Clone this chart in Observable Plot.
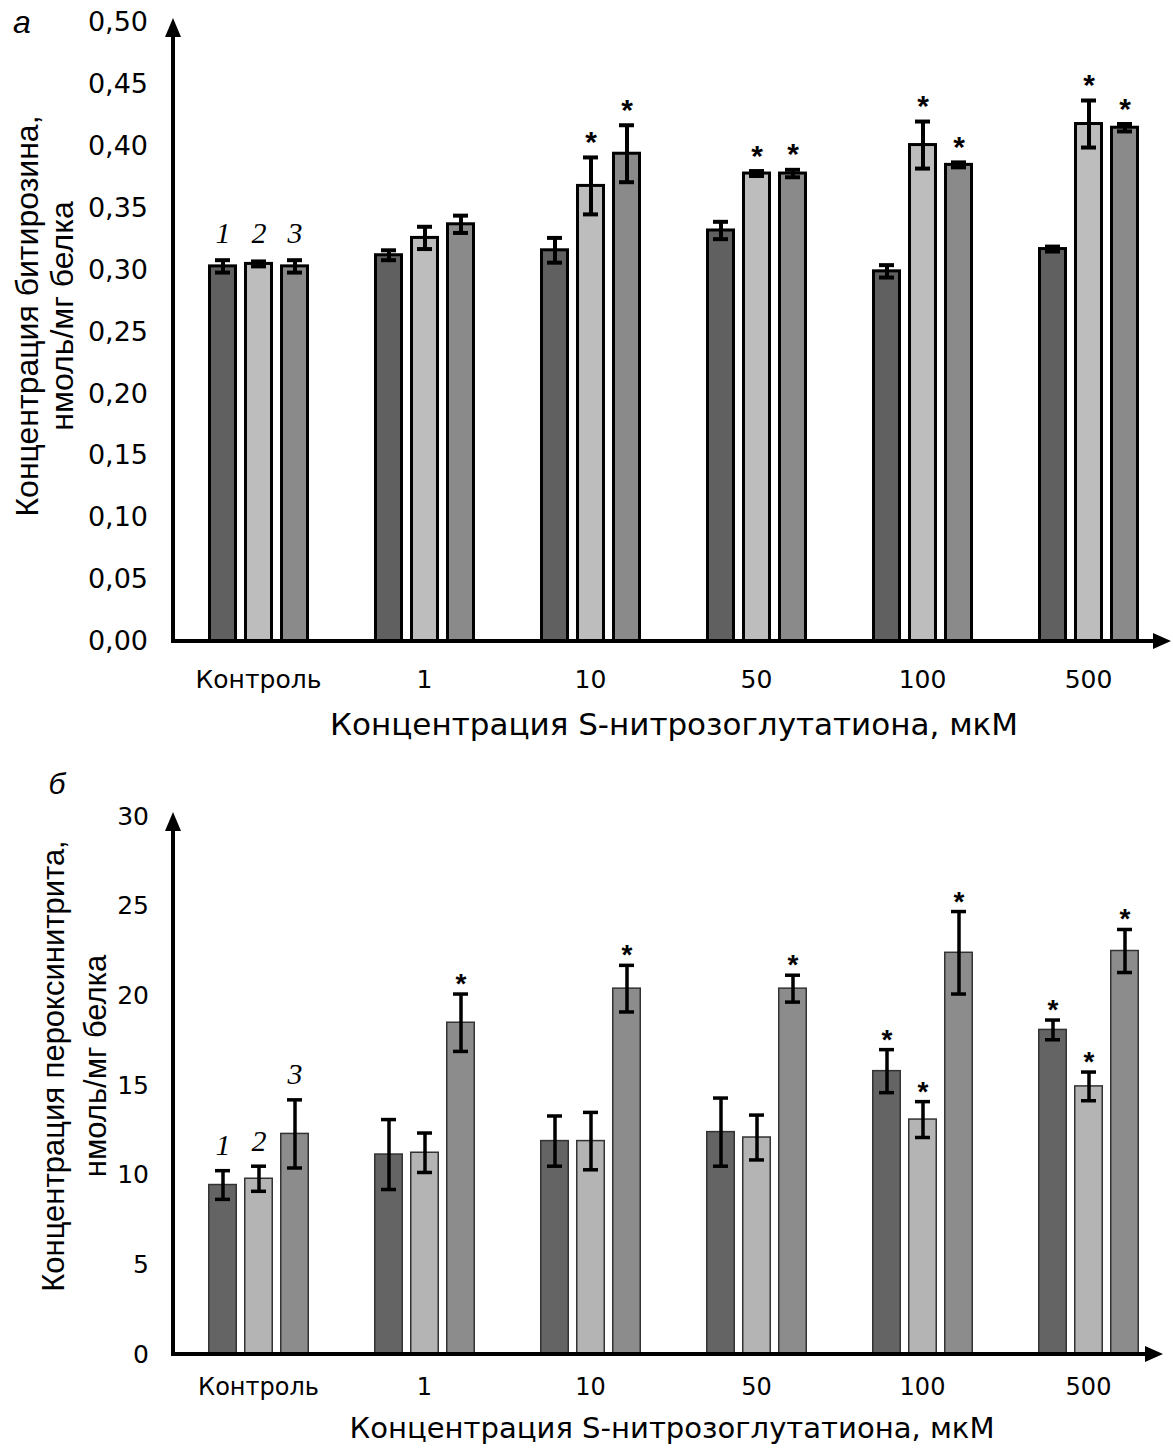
<!DOCTYPE html>
<html><head><meta charset="utf-8">
<script src="https://cdn.jsdelivr.net/npm/d3@7"></script>
<script src="https://cdn.jsdelivr.net/npm/@observablehq/plot@0.6"></script>
<style>
body{margin:0;background:#fff;}
#root{width:1173px;}
#root svg{display:block;}
</style></head><body><div id="root"></div>
<script>
// ---------- data ----------
const categories = ["Контроль", "1", "10", "50", "100", "500"];
const seriesIds = [1, 2, 3];

// Panel а — битирозин, нмоль/мг белка
const dityrosine1 = [0.303, 0.312, 0.316, 0.332, 0.299, 0.317];
const dityrosine2 = [0.305, 0.326, 0.368, 0.378, 0.401, 0.418];
const dityrosine3 = [0.303, 0.337, 0.394, 0.378, 0.385, 0.415];
const dityrosineErr1 = [0.005, 0.004, 0.010, 0.007, 0.005, 0.002];
const dityrosineErr2 = [0.002, 0.009, 0.023, 0.002, 0.019, 0.019];
const dityrosineErr3 = [0.005, 0.007, 0.023, 0.003, 0.002, 0.003];
const dityrosineSig1 = [0, 0, 0, 0, 0, 0];
const dityrosineSig2 = [0, 0, 1, 1, 1, 1];
const dityrosineSig3 = [0, 0, 1, 1, 1, 1];
const dityrosineTicks = [0, 0.05, 0.10, 0.15, 0.20, 0.25, 0.30, 0.35, 0.40, 0.45, 0.50];

// Panel б — пероксинитрит, нмоль/мг белка
const peroxynitrite1 = [9.45, 11.15, 11.9, 12.4, 15.8, 18.1];
const peroxynitrite2 = [9.8, 11.25, 11.9, 12.1, 13.1, 14.95];
const peroxynitrite3 = [12.3, 18.5, 20.4, 20.4, 22.4, 22.5];
const peroxynitriteErr1 = [0.8, 1.95, 1.4, 1.9, 1.2, 0.55];
const peroxynitriteErr2 = [0.7, 1.1, 1.6, 1.25, 1.0, 0.8];
const peroxynitriteErr3 = [1.9, 1.6, 1.3, 0.75, 2.3, 1.2];
const peroxynitriteSig1 = [0, 0, 0, 0, 1, 1];
const peroxynitriteSig2 = [0, 0, 0, 0, 1, 1];
const peroxynitriteSig3 = [0, 1, 1, 1, 1, 1];
const peroxynitriteTicks = [0, 5, 10, 15, 20, 25, 30];

const xTitle = "Концентрация S-нитрозоглутатиона, мкМ";
const yLabelA = ["Концентрация битирозина,", "нмоль/мг белка"];
const yLabelB = ["Концентрация пероксинитрита,", "нмоль/мг белка"];

function buildRows(vals, errs, sigs) {
  const rows = [];
  categories.forEach((c, i) => {
    seriesIds.forEach((s, k) => {
      rows.push({cat: c, s, v: vals[k][i], e: errs[k][i], sig: sigs[k][i]});
    });
  });
  return rows;
}

const rowsA = buildRows([dityrosine1, dityrosine2, dityrosine3],
  [dityrosineErr1, dityrosineErr2, dityrosineErr3],
  [dityrosineSig1, dityrosineSig2, dityrosineSig3]);
const rowsB = buildRows([peroxynitrite1, peroxynitrite2, peroxynitrite3],
  [peroxynitriteErr1, peroxynitriteErr2, peroxynitriteErr3],
  [peroxynitriteSig1, peroxynitriteSig2, peroxynitriteSig3]);

const FONT = "'DejaVu Sans', Arial, sans-serif";
const FONT_V = "'Liberation Sans', Arial, sans-serif";
const SERIF = "'Liberation Serif', 'Times New Roman', serif";

function panel(cfg) {
  const W = 1173;
  const {rows, ticks, fmt, height, mt, mb} = cfg;
  const ml = 173;
  const ctrl = rows.filter(r => r.cat === categories[0]);
  const plot = Plot.plot({
    width: W, height,
    marginLeft: ml, marginRight: 0, marginTop: mt, marginBottom: mb,
    style: {fontFamily: FONT, color: "#000", background: "#fff", overflow: "visible"},
    fx: {domain: categories, paddingInner: 0.3, paddingOuter: 0.15, label: null},
    x: {domain: seriesIds, paddingInner: 0.2, paddingOuter: 0.2, axis: null},
    y: {domain: [ticks[0], ticks[ticks.length - 1]], axis: null},
    color: {domain: seriesIds, range: cfg.colors},
    marks: [
      Plot.barY(rows, {fx: "cat", x: "s", y: "v", fill: "s",
        stroke: cfg.barStroke, strokeWidth: cfg.barStrokeWidth,
        insetLeft: cfg.barStrokeWidth / 2, insetRight: cfg.barStrokeWidth / 2}),
      Plot.ruleX(rows, {fx: "cat", x: "s", y1: d => d.v - d.e, y2: d => d.v + d.e,
        stroke: "#000", strokeWidth: cfg.errWidth}),
      Plot.tickY(rows, {fx: "cat", x: "s", y: d => d.v + d.e, stroke: "#000",
        strokeWidth: cfg.errWidth, insetLeft: cfg.capInset, insetRight: cfg.capInset}),
      Plot.tickY(rows, {fx: "cat", x: "s", y: d => d.v - d.e, stroke: "#000",
        strokeWidth: cfg.errWidth, insetLeft: cfg.capInset, insetRight: cfg.capInset}),
      Plot.text(rows.filter(d => d.sig), {fx: "cat", x: "s", y: d => d.v + d.e,
        text: () => "*", fontSize: cfg.starSize, fontFamily: FONT_V, fontWeight: "bold",
        dy: cfg.starDy, fill: "#000"}),
      Plot.text(ctrl, {fx: "cat", x: "s",
        y: d => cfg.labelAtErr ? d.v + d.e : d3.max(ctrl, r => r.v + r.e),
        text: d => String(d.s), fontSize: cfg.numSize, fontFamily: SERIF, fontStyle: "italic",
        dy: cfg.numDy, fill: "#000"}),
      Plot.axisY({ticks, tickFormat: fmt, tickSize: 0, tickPadding: 25,
        fontSize: cfg.yTickSize, label: null}),
      Plot.axisFx({anchor: "bottom", tickSize: 0, tickPadding: 0, dy: cfg.fxDy,
        fontSize: cfg.xTickSize, label: null})
    ]
  });

  const svg = d3.select(plot);
  const y0 = height - mb, yTop = mt;
  const g = svg.append("g");
  // y-axis with arrow
  g.append("line").attr("x1", ml).attr("x2", ml).attr("y1", y0 + 2).attr("y2", yTop + 14)
    .attr("stroke", "#000").attr("stroke-width", cfg.axisWidth);
  g.append("path").attr("d", `M${ml},${yTop - 4}L${ml - 8},${yTop + 15}L${ml + 8},${yTop + 15}Z`).attr("fill", "#000");
  // x-axis with arrow
  const xEnd = cfg.xArrowTip;
  g.append("line").attr("x1", ml - 2).attr("x2", xEnd - 14).attr("y1", y0).attr("y2", y0)
    .attr("stroke", "#000").attr("stroke-width", cfg.axisWidth);
  g.append("path").attr("d", `M${xEnd},${y0}L${xEnd - 18},${y0 - 8}L${xEnd - 18},${y0 + 8}Z`).attr("fill", "#000");
  // x title
  svg.append("text").attr("x", cfg.titleX).attr("y", cfg.titleY)
    .attr("text-anchor", "middle").attr("dominant-baseline", "central")
    .attr("font-size", cfg.titleSize).attr("font-family", FONT).attr("fill", "#000")
    .attr("textLength", cfg.titleLen).attr("lengthAdjust", "spacingAndGlyphs").text(xTitle);
  // y label (two lines)
  cfg.yLabel.forEach((t, i) => {
    svg.append("text").attr("transform", `translate(${cfg.yLabelX[i]},${cfg.yLabelCy}) rotate(-90)`)
      .attr("text-anchor", "middle").attr("dominant-baseline", "central")
      .attr("font-size", cfg.yLabelSize).attr("font-family", FONT_V).attr("fill", "#000").text(t);
  });
  // panel letter
  svg.append("text").attr("x", cfg.letterX).attr("y", cfg.letterY)
    .attr("text-anchor", "middle").attr("dominant-baseline", "central")
    .attr("font-size", cfg.letterSize).attr("font-style", "italic").attr("font-family", FONT_V)
    .attr("fill", "#000").text(cfg.letter);
  return plot;
}

// keep the y tick labels' right edge a fixed gap left of the axis line
function alignYTicks(svgNode, rightEdge) {
  const box = svgNode.getBoundingClientRect();
  svgNode.querySelectorAll('g[aria-label="y-axis tick label"]').forEach(gr => {
    const r = gr.getBoundingClientRect();
    const shift = rightEdge - (r.right - box.left);
    if (Math.abs(shift) > 0.5) {
      gr.setAttribute("transform", (gr.getAttribute("transform") || "") + ` translate(${shift},0)`);
    }
  });
}

const commaFmt = d => d.toFixed(2).replace(".", ",");

const root = document.getElementById("root");
const pa = panel({
  rows: rowsA, ticks: dityrosineTicks, fmt: commaFmt,
  height: 745, mt: 22, mb: 104,
  colors: ["#606060", "#bdbdbd", "#8a8a8a"],
  barStroke: "#000", barStrokeWidth: 3, errWidth: 4, capInset: 7,
  starSize: 30, starDy: -15, numSize: 30, numDy: -27, labelAtErr: false,
  yTickSize: 27, xTickSize: 25, fxDy: 29,
  axisWidth: 4, xArrowTip: 1171,
  titleX: 674, titleY: 724, titleSize: 31, titleLen: 688,
  yLabel: yLabelA, yLabelX: [27, 62], yLabelCy: 316, yLabelSize: 32,
  letter: "а", letterX: 22, letterY: 22, letterSize: 32
});
root.appendChild(pa);
const pb = panel({
  rows: rowsB, ticks: peroxynitriteTicks, fmt: d => String(d),
  height: 705, mt: 71, mb: 96,
  colors: ["#646464", "#b4b4b4", "#8c8c8c"],
  barStroke: "#333", barStrokeWidth: 1.5, errWidth: 3.5, capInset: 7,
  starSize: 28, starDy: -10, numSize: 30, numDy: -25, labelAtErr: true,
  yTickSize: 25, xTickSize: 24, fxDy: 23,
  axisWidth: 4, xArrowTip: 1163,
  titleX: 672, titleY: 683, titleSize: 29, titleLen: 645,
  yLabel: yLabelB, yLabelX: [53, 95], yLabelCy: 321, yLabelSize: 31,
  letter: "б", letterX: 57, letterY: 38, letterSize: 30
});
root.appendChild(pb);
alignYTicks(pa, 148);
alignYTicks(pb, 149);
</script></body></html>
